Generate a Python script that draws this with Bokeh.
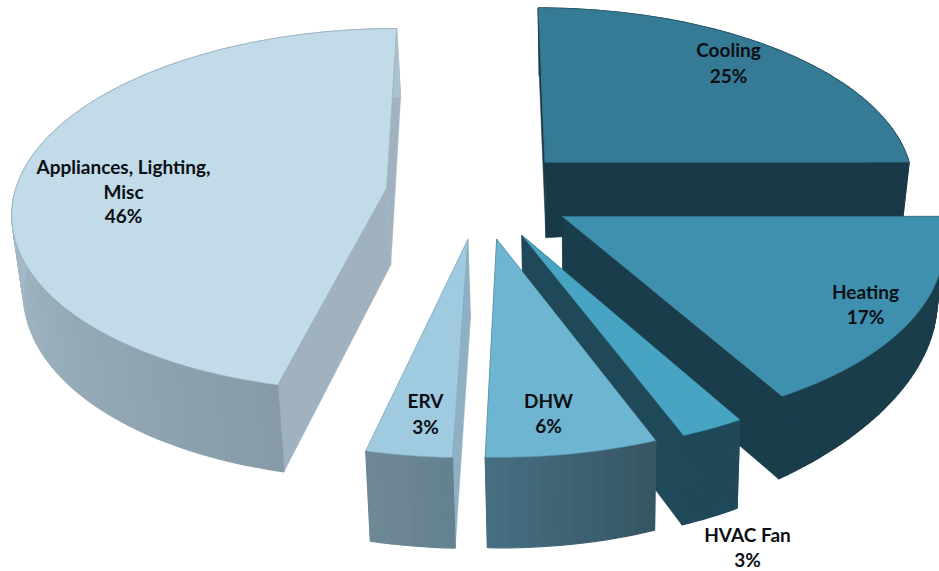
import math
from bokeh.plotting import figure
from bokeh.embed import file_html
from bokeh.resources import INLINE
from bokeh.core.properties import value

# ---- data, clockwise from twelve o'clock
categories = ["Cooling", "Heating", "HVAC Fan", "DHW", "ERV", "Appliances, Lighting, Misc"]
shares = [25.0, 16.7, 2.4, 6.4, 3.2, 46.3]
percent_labels = ["25%", "17%", "3%", "6%", "3%", "46%"]
name_lines = [["Cooling"], ["Heating"], ["HVAC Fan"], ["DHW"], ["ERV"], ["Appliances, Lighting,", "Misc"]]

# ---- styles
top_colors = ["#367b95", "#3f90ae", "#47a4c3", "#6eb5d1", "#9fcae0", "#c2dbe9"]
arc_wall_from = ["#1a3a47", "#1a3d4b", "#1f4859", "#375563", "#63808e", "#869ba7"]
arc_wall_to = ["#1a3a47", "#1a3d4b", "#1f4859", "#466f82", "#6f8997", "#abc1ce"]
radial_walls = ["#1a3946", "#1a3d4b", "#1f4859", "#375563", "#8fb0c2", "#a0b2bf"]
edge_colors = ["#2c6479", "#35788f", "#3b89a3", "#5c98b0", "#7ea6bb", "#8fa9b8"]
draw_order = [5, 0, 1, 2, 4, 3]
label_centres = [(728, 49, 75), (865, 291, 316), (747, 534, 559), (548, 400, 425),
                 (425, 400, 426), (123, 166, 215)]
misc_line_y = 191

# ---- projection of the tilted pie
CX, CY, RX, RY, K = 480.0, 193.0, 372.0, 180.0, 0.12
EXPLODE = [0.25, 0.25, 0.25, 0.25, 0.25, 0.255]
D0, VX, SCALE = 77.0, 595.0, 0.98


def project(X, Y, low=False):
    den = 1 + K * Y
    x = CX + RX * X / den
    y = CY - RY * Y / den
    if low:
        x = VX + (x - VX) * SCALE
        y += (D0 - 36.0 * max(0.0, X - 0.6)) / den
    return x, y


def mix(c0, c1, t):
    a = [int(c0[i:i + 2], 16) for i in (1, 3, 5)]
    b = [int(c1[i:i + 2], 16) for i in (1, 3, 5)]
    return "#%02x%02x%02x" % tuple(round(p + (q - p) * t) for p, q in zip(a, b))


p = figure(width=939, height=571, x_range=(0, 939), y_range=(571, 0),
           output_backend="svg", toolbar_location=None, min_border=0)
p.axis.visible = False
p.grid.visible = False
p.outline_line_color = None
p.background_fill_color = "white"

edges = [0.0]
for s in shares:
    edges.append(edges[-1] + s / sum(shares) * 2 * math.pi)

for i in draw_order:
    a0, a1 = edges[i], edges[i + 1]
    mid = (a0 + a1) / 2
    ax, ay = EXPLODE[i] * math.sin(mid), EXPLODE[i] * math.cos(mid)
    n = max(8, int((a1 - a0) * 40))
    arc = [(ax + math.sin(a0 + (a1 - a0) * j / n), ay + math.cos(a0 + (a1 - a0) * j / n))
           for j in range(n + 1)]

    # radial walls
    for end in (arc[0], arc[-1]):
        pts = [project(ax, ay), project(*end), project(*end, low=True), project(ax, ay, low=True)]
        p.patch([q[0] for q in pts], [q[1] for q in pts], fill_color=radial_walls[i],
                line_color=radial_walls[i], line_width=0.5)

    # outer wall, shaded strip by strip
    xs, ys, cols = [], [], []
    for j in range(n):
        pts = [project(*arc[j]), project(*arc[j + 1]),
               project(*arc[j + 1], low=True), project(*arc[j], low=True)]
        xs.append([q[0] for q in pts])
        ys.append([q[1] for q in pts])
        front = min(1.0, (a0 + (a1 - a0) * (j + 0.5) / n - a0) / max(1e-6, min(a1 - a0, math.pi / 2)))
        cols.append(mix(arc_wall_from[i], arc_wall_to[i], front))
    p.patches(xs, ys, fill_color=cols, line_color=cols, line_width=1.2)

    # top face
    pts = [project(ax, ay)] + [project(*q) for q in arc]
    p.patch([q[0] for q in pts], [q[1] for q in pts], fill_color=top_colors[i],
            line_color=edge_colors[i], line_width=0.6)

font = value("Lato")


def label(x, y, txt):
    p.text([x], [y], text=[txt], text_font=font, text_font_size="19px", text_font_style="bold",
           text_align="center", text_baseline="middle", text_color="#0b0f14")


for i, (x, y0, y1) in enumerate(label_centres):
    lines = name_lines[i]
    label(x, y0, lines[0])
    if len(lines) > 1:
        label(x, misc_line_y, lines[1])
    label(x, y1, percent_labels[i])

open("out.html", "w").write(file_html(p, INLINE))
